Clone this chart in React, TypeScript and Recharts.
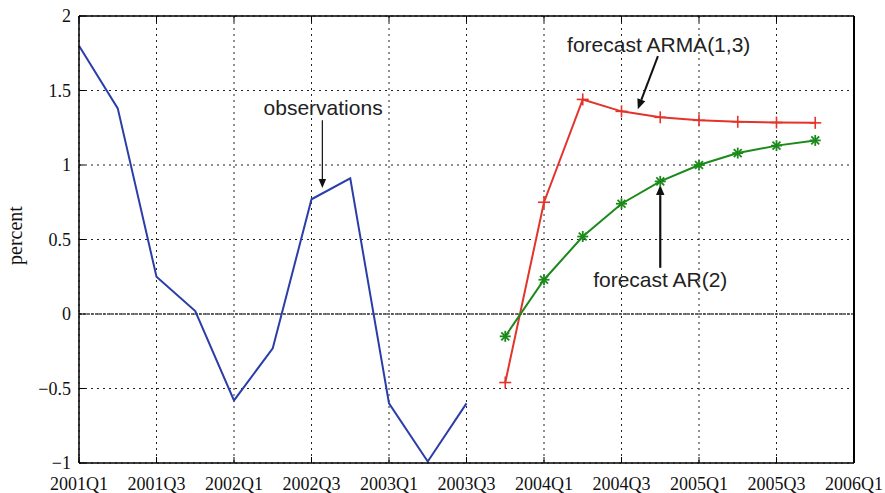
import React from 'react';
import { LineChart, Line, XAxis, YAxis, CartesianGrid, ReferenceLine, ReferenceDot } from 'recharts';

// quarter index 0 = 2001Q1, ticks every second quarter
const quarterLabels = ['2001Q1', '2001Q3', '2002Q1', '2002Q3', '2003Q1', '2003Q3', '2004Q1', '2004Q3', '2005Q1', '2005Q3', '2006Q1'];
const observations = [1.8, 1.38, 0.25, 0.02, -0.58, -0.23, 0.77, 0.91, -0.6, -0.99, -0.6];
const forecastStart = 11; // 2003Q4
const forecastArma = [-0.46, 0.75, 1.44, 1.36, 1.32, 1.3, 1.29, 1.285, 1.283];
const forecastAr = [-0.15, 0.23, 0.52, 0.74, 0.89, 1.0, 1.08, 1.13, 1.165];
const yTicks = [-1, -0.5, 0, 0.5, 1, 1.5, 2];

const nQuarters = forecastStart + forecastArma.length;
const data = Array.from({ length: nQuarters }, (_, i) => ({
    q: i,
    obs: i < observations.length ? observations[i] : null,
    arma: i >= forecastStart ? forecastArma[i - forecastStart] : null,
    ar: i >= forecastStart ? forecastAr[i - forecastStart] : null,
}));
const xTicks = quarterLabels.map((_, i) => i * 2);

const serifFamily = 'Liberation Serif, Times New Roman, serif';
const serif = { fontFamily: serifFamily, fontSize: 18, fill: '#111' };
const sans = 'Liberation Sans, Arial, sans-serif';

const fmtY = (v: number) => (v < 0 ? '\u2212' + String(-v) : String(v));

const PlusDot = (p: any) => {
    const { cx, cy, value, index } = p;
    if (cx == null || cy == null || value == null) return <g key={'p' + index} />;
    return (
        <g key={'p' + index} stroke="#e3342b" strokeWidth={1.6}>
            <line x1={cx - 6} y1={cy} x2={cx + 6} y2={cy} />
            <line x1={cx} y1={cy - 6} x2={cx} y2={cy + 6} />
        </g>
    );
};

const StarDot = (p: any) => {
    const { cx, cy, value, index } = p;
    if (cx == null || cy == null || value == null) return <g key={'s' + index} />;
    const r = 5.5, d = r * 0.72;
    return (
        <g key={'s' + index} stroke="#1b8a1b" strokeWidth={1.8}>
            <line x1={cx - r} y1={cy} x2={cx + r} y2={cy} />
            <line x1={cx} y1={cy - r} x2={cx} y2={cy + r} />
            <line x1={cx - d} y1={cy - d} x2={cx + d} y2={cy + d} />
            <line x1={cx - d} y1={cy + d} x2={cx + d} y2={cy - d} />
        </g>
    );
};

const arrowShape = (w: number, head: number) => (p: any) => {
    const { x1, y1, x2, y2 } = p;
    const dx = x2 - x1, dy = y2 - y1;
    const len = Math.hypot(dx, dy) || 1;
    const ux = dx / len, uy = dy / len;
    const bx = x2 - ux * head, by = y2 - uy * head;
    const px = -uy * head * 0.42, py = ux * head * 0.42;
    return (
        <g>
            <line x1={x1} y1={y1} x2={bx} y2={by} stroke="#111" strokeWidth={w} />
            <polygon points={`${x2},${y2} ${bx + px},${by + py} ${bx - px},${by - py}`} fill="#111" />
        </g>
    );
};

const textShape = (txt: string) => (p: any) => (
    <text x={p.cx} y={p.cy} textAnchor="middle" fontFamily={sans} fontSize={21} fill="#222">{txt}</text>
);

const YLabel = (p: any) => {
    const vb = p.viewBox || { x: 0, y: 16, width: 79, height: 447 };
    const x = vb.x + 22;
    const y = vb.y + vb.height / 2 - 4;
    return (
        <text x={x} y={y} transform={`rotate(-90, ${x}, ${y})`} textAnchor="middle"
            fontFamily={serifFamily} fontSize={20} fill="#111">percent</text>
    );
};

const App = () => (
    <div style={{ position: 'absolute', left: 0, top: 0 }}>
        <LineChart width={885} height={493} data={data} margin={{ top: 0, right: 0, bottom: 0, left: 0 }}>
            <CartesianGrid stroke="#222" strokeDasharray="2 4" />
            <XAxis dataKey="q" type="number" domain={[0, 20]} ticks={xTicks} height={30}
                tickFormatter={(v) => quarterLabels[v / 2]} tick={serif} fontSize={18} fontFamily={serifFamily}
                tickSize={-6} tickMargin={20}
                tickLine={{ stroke: '#000' }} axisLine={{ stroke: '#000', strokeWidth: 1.5 }} interval={0} />
            <XAxis xAxisId="top" orientation="top" dataKey="q" type="number" domain={[0, 20]} ticks={xTicks} height={16}
                tickFormatter={() => ''} tickSize={-6} tickLine={{ stroke: '#000' }} axisLine={{ stroke: '#000', strokeWidth: 1.5 }} />
            <YAxis type="number" domain={[-1, 2]} ticks={yTicks} width={79} tickFormatter={fmtY} tick={serif}
                fontSize={18} fontFamily={serifFamily}
                tickSize={-6} tickMargin={14} tickLine={{ stroke: '#000' }} axisLine={{ stroke: '#000', strokeWidth: 1.5 }}
                interval={0}
                label={{ position: 'insideLeft', content: YLabel }} />
            <YAxis yAxisId="right" orientation="right" type="number" domain={[-1, 2]} ticks={yTicks} width={31}
                tickFormatter={() => ''} tickSize={-6} tickLine={{ stroke: '#000' }} axisLine={{ stroke: '#000', strokeWidth: 2 }} />
            <ReferenceLine y={0} stroke="#444" strokeWidth={1.5} strokeDasharray="3 1" />
            <Line dataKey="obs" stroke="#2b3ea8" strokeWidth={2} dot={false} isAnimationActive={false} connectNulls={false} />
            <Line dataKey="arma" stroke="#e3342b" strokeWidth={2} dot={PlusDot} isAnimationActive={false} connectNulls={false} />
            <Line dataKey="ar" stroke="#1b8a1b" strokeWidth={2} dot={StarDot} isAnimationActive={false} connectNulls={false} />
            <ReferenceLine segment={[{ x: 6.28, y: 1.3 }, { x: 6.28, y: 0.845 }]} shape={arrowShape(1.2, 9)} />
            <ReferenceLine segment={[{ x: 14.94, y: 1.73 }, { x: 14.42, y: 1.375 }]} shape={arrowShape(2, 10)} />
            <ReferenceLine segment={[{ x: 15.0, y: 0.31 }, { x: 15.0, y: 0.865 }]} shape={arrowShape(2.2, 10)} />
            <ReferenceDot x={6.3} y={1.335} r={0} shape={textShape('observations')} />
            <ReferenceDot x={14.96} y={1.76} r={0} shape={textShape('forecast ARMA(1,3)')} />
            <ReferenceDot x={15.0} y={0.182} r={0} shape={textShape('forecast AR(2)')} />
        </LineChart>
    </div>
);

export default App;
